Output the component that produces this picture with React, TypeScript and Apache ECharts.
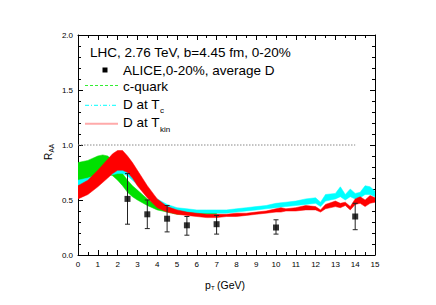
import React, { useEffect, useRef } from "react";
import * as echarts from "echarts";

// ---- data ----
const greenX = [0, 0.5, 1, 1.25, 1.5, 1.75, 2, 2.25, 2.5, 2.75, 3, 3.5, 4, 4.5, 5, 5.5, 6, 6.5, 7];
const greenHi = [0.84, 0.86, 0.9, 0.91, 0.9, 0.86, 0.8, 0.74, 0.68, 0.63, 0.59, 0.51, 0.45, 0.42, 0.41, 0.4, 0.4, 0.4, 0.39];
const greenLo = [0.67, 0.69, 0.73, 0.75, 0.74, 0.72, 0.68, 0.63, 0.57, 0.53, 0.5, 0.45, 0.41, 0.39, 0.37, 0.37, 0.37, 0.37, 0.37];

const cyanX = [0, 0.5, 1, 1.5, 2, 2.25, 2.5, 3, 3.5, 4, 4.5, 5, 5.5, 6, 6.5, 7, 7.5, 8, 8.5, 9, 9.5, 10, 10.5, 11, 11.5, 12, 12.25, 12.5, 13, 13.25, 13.5, 13.75, 14, 14.25, 14.5, 14.75, 15];
const cyanLo = [0.63, 0.65, 0.68, 0.72, 0.74, 0.74, 0.72, 0.64, 0.55, 0.47, 0.43, 0.4, 0.39, 0.38, 0.38, 0.38, 0.38, 0.39, 0.4, 0.41, 0.42, 0.43, 0.44, 0.45, 0.46, 0.47, 0.44, 0.49, 0.51, 0.53, 0.5, 0.53, 0.51, 0.52, 0.55, 0.55, 0.53];
const cyanHi = [0.68, 0.7, 0.73, 0.76, 0.78, 0.78, 0.76, 0.68, 0.59, 0.51, 0.46, 0.43, 0.42, 0.41, 0.41, 0.41, 0.41, 0.42, 0.43, 0.44, 0.45, 0.47, 0.48, 0.49, 0.51, 0.52, 0.48, 0.55, 0.56, 0.62, 0.55, 0.6, 0.56, 0.57, 0.63, 0.62, 0.58];

const redX = [0, 0.5, 1, 1.5, 1.75, 2, 2.25, 2.5, 2.75, 3, 3.5, 4, 4.5, 5, 5.5, 6, 6.5, 7, 7.5, 8, 8.5, 9, 9.5, 10, 10.25, 10.5, 11, 11.5, 12, 12.25, 12.5, 13, 13.25, 13.5, 13.75, 14, 14.25, 14.5, 14.75, 15];
const redLo = [0.51, 0.55, 0.62, 0.7, 0.74, 0.77, 0.77, 0.75, 0.7, 0.63, 0.52, 0.43, 0.39, 0.37, 0.36, 0.35, 0.34, 0.34, 0.35, 0.35, 0.36, 0.37, 0.38, 0.39, 0.39, 0.4, 0.4, 0.41, 0.41, 0.39, 0.42, 0.44, 0.43, 0.45, 0.41, 0.46, 0.47, 0.44, 0.47, 0.48];
const redHi = [0.63, 0.68, 0.77, 0.87, 0.92, 0.95, 0.95, 0.9, 0.84, 0.77, 0.63, 0.51, 0.44, 0.41, 0.39, 0.38, 0.37, 0.37, 0.37, 0.38, 0.38, 0.39, 0.4, 0.42, 0.43, 0.42, 0.43, 0.45, 0.44, 0.41, 0.46, 0.49, 0.47, 0.48, 0.44, 0.51, 0.53, 0.5, 0.54, 0.52];

const aliceX = [2.5, 3.5, 4.5, 5.5, 7, 10, 14];
const aliceY = [0.51, 0.37, 0.33, 0.27, 0.28, 0.25, 0.35];
const aliceLo = [0.28, 0.24, 0.21, 0.18, 0.19, 0.19, 0.23];
const aliceHi = [0.74, 0.5, 0.45, 0.35, 0.36, 0.32, 0.47];

const refLineX = [0, 14];
const refLineY = [1, 1];

const FONT = "'Liberation Sans', Arial, Helvetica, sans-serif";

function bandSeries(xs: number[], lo: number[], hi: number[], color: string, z: number) {
  return {
    type: "custom",
    z,
    silent: true,
    clip: true,
    data: xs.map((x, i) => [x, lo[i], hi[i]]),
    encode: { x: 0, y: [1, 2] },
    renderItem: (params: any, api: any) => {
      if (params.dataIndex !== 0) return null;
      const pts: number[][] = [];
      for (let i = 0; i < xs.length; i++) pts.push(api.coord([xs[i], hi[i]]));
      for (let i = xs.length - 1; i >= 0; i--) pts.push(api.coord([xs[i], lo[i]]));
      return { type: "polygon", shape: { points: pts }, style: { fill: color, stroke: color, lineWidth: 0.5 } };
    },
  };
}

const axisCommon = {
  axisLine: { show: true, onZero: false, lineStyle: { color: "#000", width: 1 } },
  axisTick: { show: true, inside: true, length: 5, lineStyle: { color: "#000", width: 1 } },
  splitLine: { show: false },
};

export default function App() {
  const ref = useRef<HTMLDivElement>(null);
  useEffect(() => {
    if (!ref.current) return;
    const chart = echarts.init(ref.current, null, { renderer: "svg" });
    const option: any = {
      animation: false,
      backgroundColor: "#fff",
      grid: { left: 78, right: 61, top: 35, bottom: 50 },
      xAxis: [
        {
          type: "value", min: 0, max: 15, interval: 1, position: "bottom",
          ...axisCommon,
          minorTick: { show: true, splitNumber: 2, length: 3, lineStyle: { color: "#000" } },
          minorSplitLine: { show: false },
          axisLabel: { fontSize: 8, color: "#000", margin: 5, fontFamily: FONT },
        },
        {
          type: "value", min: 0, max: 15, interval: 1, position: "top",
          ...axisCommon,
          minorTick: { show: true, splitNumber: 2, length: 3, lineStyle: { color: "#000" } },
          axisLabel: { show: false },
        },
      ],
      yAxis: [
        {
          type: "value", min: 0, max: 2, interval: 0.5, position: "left",
          ...axisCommon,
          minorTick: { show: true, splitNumber: 5, length: 3, lineStyle: { color: "#000" } },
          axisLabel: { fontSize: 8, color: "#000", margin: 5, fontFamily: FONT, formatter: (v: number) => v.toFixed(1) },
        },
        {
          type: "value", min: 0, max: 2, interval: 0.5, position: "right",
          ...axisCommon,
          minorTick: { show: true, splitNumber: 5, length: 3, lineStyle: { color: "#000" } },
          axisLabel: { show: false },
        },
      ],
      series: [
        {
          type: "line", z: 1, symbol: "none",
          data: refLineX.map((x, i) => [x, refLineY[i]]),
          lineStyle: { color: "#888", width: 1, type: [1.5, 1.5] },
        },
        bandSeries(greenX, greenLo, greenHi, "#00e000", 2),
        bandSeries(cyanX, cyanLo, cyanHi, "#00ffff", 3),
        bandSeries(redX, redLo, redHi, "#ff0000", 4),
        {
          type: "custom", z: 5, silent: true,
          data: aliceX.map((x, i) => [x, aliceLo[i], aliceHi[i]]),
          encode: { x: 0, y: [1, 2] },
          renderItem: (params: any, api: any) => {
            const x = api.value(0);
            const lo = api.coord([x, api.value(1)]);
            const hi = api.coord([x, api.value(2)]);
            const st = { stroke: "#222", lineWidth: 1 };
            return {
              type: "group",
              children: [
                { type: "line", shape: { x1: lo[0], y1: lo[1], x2: hi[0], y2: hi[1] }, style: st },
                { type: "line", shape: { x1: lo[0] - 2.5, y1: lo[1], x2: lo[0] + 2.5, y2: lo[1] }, style: st },
                { type: "line", shape: { x1: hi[0] - 2.5, y1: hi[1], x2: hi[0] + 2.5, y2: hi[1] }, style: st },
              ],
            };
          },
        },
        {
          type: "scatter", z: 6, symbol: "rect", symbolSize: 6,
          itemStyle: { color: "#000" },
          data: aliceX.map((x, i) => [x, aliceY[i]]),
        },
      ],
      graphic: [
        { type: "text", left: 90, top: 45, style: { text: "LHC, 2.76 TeV, b=4.45 fm, 0-20%", fontSize: 13.5, fontFamily: FONT, fill: "#000" } },
        { type: "rect", shape: { x: 102.5, y: 67.5, width: 5, height: 5 }, style: { fill: "#000" } },
        { type: "text", x: 123, y: 70.5, style: { text: "ALICE,0-20%, average D", fontSize: 13.5, fontFamily: FONT, fill: "#000", verticalAlign: "middle" } },
        { type: "line", shape: { x1: 85, y1: 85.5, x2: 118, y2: 85.5 }, style: { stroke: "#33ee33", lineWidth: 1, lineDash: [3, 2] } },
        { type: "text", x: 123, y: 86, style: { text: "c-quark", fontSize: 13.5, fontFamily: FONT, fill: "#000", verticalAlign: "middle" } },
        { type: "line", shape: { x1: 85, y1: 105.3, x2: 118, y2: 105.3 }, style: { stroke: "#00ffff", lineWidth: 1, lineDash: [4, 2, 1, 2] } },
        { type: "text", x: 123, y: 104.7, style: { text: "D at T", fontSize: 13.5, fontFamily: FONT, fill: "#000", verticalAlign: "middle" } },
        { type: "text", x: 160, y: 110.5, style: { text: "c", fontSize: 8, fontFamily: FONT, fill: "#000", verticalAlign: "middle" } },
        { type: "line", shape: { x1: 85, y1: 123.7, x2: 118, y2: 123.7 }, style: { stroke: "#ffaaaa", lineWidth: 2 } },
        { type: "text", x: 123, y: 122.7, style: { text: "D at T", fontSize: 13.5, fontFamily: FONT, fill: "#000", verticalAlign: "middle" } },
        { type: "text", x: 160, y: 129, style: { text: "kin", fontSize: 8, fontFamily: FONT, fill: "#000", verticalAlign: "middle" } },
        { type: "text", x: 205, y: 284.5, style: { text: "p", fontSize: 10.5, fontFamily: FONT, fill: "#000", verticalAlign: "middle" } },
        { type: "text", x: 211, y: 288, style: { text: "T", fontSize: 6, fontFamily: FONT, fill: "#000", verticalAlign: "middle" } },
        { type: "text", x: 217, y: 284.5, style: { text: "(GeV)", fontSize: 10.5, fontFamily: FONT, fill: "#000", verticalAlign: "middle" } },
        {
          type: "group", x: 48, y: 160, rotation: Math.PI / 2,
          children: [
            { type: "text", x: 0, y: 0, style: { text: "R", fontSize: 10, fontFamily: FONT, fill: "#000", verticalAlign: "middle" } },
            { type: "text", x: 7.5, y: 3.5, style: { text: "AA", fontSize: 6.5, fontFamily: FONT, fill: "#000", verticalAlign: "middle" } },
          ],
        },
      ],
    };
    chart.setOption(option);
    return () => chart.dispose();
  }, []);
  return <div ref={ref} style={{ position: "fixed", left: 0, top: 0, width: 436, height: 305 }} />;
}
